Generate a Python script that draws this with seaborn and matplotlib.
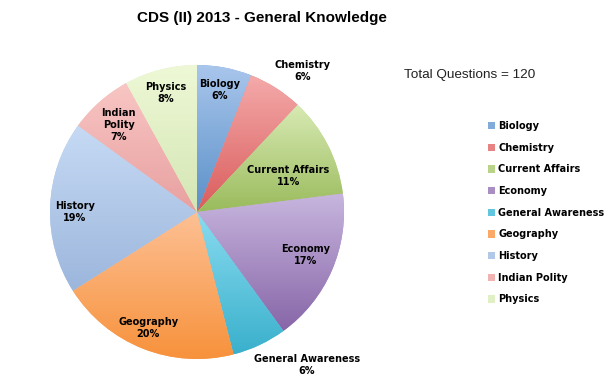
import numpy as np
import matplotlib
matplotlib.use("Agg")
import matplotlib.pyplot as plt
import seaborn as sns
from matplotlib.colors import to_rgb

# ---- data ----
categories = ["Biology", "Chemistry", "Current Affairs", "Economy",
              "General Awareness", "Geography", "History", "Indian Polity", "Physics"]
percent = [6, 6, 11, 17, 6, 20, 19, 7, 8]
total_questions = 120
title = "CDS (II) 2013 - General Knowledge"

# ---- styles ----
top_colors = ["#A9C6EC", "#F4AAAA", "#D8EAB4", "#C8B6DE", "#8ADCF0",
              "#FDC094", "#C6DAF4", "#F8C6C4", "#EEF8D6"]
bottom_colors = ["#5A90C8", "#DA5C5C", "#9ABB5C", "#8766A8", "#3AB0CC",
                 "#F7923C", "#9CB6DC", "#E8A0A0", "#D4E6B4"]
# label centres in pie-radius units
label_xy = [(0.152, 0.832), (0.719, 0.961), (0.621, 0.247), (0.739, -0.293),
            (0.746, -1.04), (-0.331, -0.787), (-0.83, 0.0), (-0.533, 0.594),
            (-0.211, 0.812)]
label_text = ["Biology", "Chemistry", "Current Affairs", "Economy",
              "General Awareness", "Geography", "History", "Indian\nPolity", "Physics"]

sns.set_theme(style="white")
plt.rcParams["font.family"] = ["Liberation Sans", "DejaVu Sans"]

W, H = 610, 388
fig = plt.figure(figsize=(W / 100, H / 100), dpi=100)
fig.patch.set_facecolor("white")
R = 147
cx, cy = 197, H - 212
ax = fig.add_axes([(cx - R) / W, (cy - R) / H, 2 * R / W, 2 * R / H])

mid_colors = [tuple((np.array(to_rgb(a)) + np.array(to_rgb(b))) / 2)
              for a, b in zip(top_colors, bottom_colors)]
wedges, _ = ax.pie(percent, colors=mid_colors, startangle=90, counterclock=False,
                   wedgeprops=dict(linewidth=0))

grad = np.linspace(0, 1, 128)[:, None, None]
for w, tc, bc in zip(wedges, top_colors, bottom_colors):
    ext = w.get_path().get_extents()
    img = np.array(to_rgb(tc))[None, None, :] * (1 - grad) + np.array(to_rgb(bc))[None, None, :] * grad
    im = ax.imshow(img, extent=[ext.x0, ext.x1, ext.y0, ext.y1], origin="upper",
                   aspect="auto", interpolation="bilinear", zorder=w.get_zorder() + 0.1)
    im.set_clip_path(w)

for (lx, ly), name, p in zip(label_xy, label_text, percent):
    ax.text(lx, ly, f"{name}\n{p}%", ha="center", va="center", fontsize=7,
            fontweight="bold", color="black", zorder=10, linespacing=1.25,
            family=["DejaVu Sans"])

ax.set_xlim(-1, 1)
ax.set_ylim(-1, 1)
ax.axis("off")

fig.text(262 / W, 1 - 18 / H, title, ha="center", va="center",
         fontsize=11, fontweight="bold", color="black")
fig.text(469.5 / W, 1 - 75 / H, f"Total Questions = {total_questions}", ha="center",
         va="center", fontsize=9.7, color="#222222")

leg = fig.legend(wedges, categories, loc="upper left", bbox_to_anchor=(488 / W, 1 - 121 / H),
                 frameon=False, prop=dict(weight="bold", size=7, family="DejaVu Sans"),
                 labelcolor="black",
                 handlelength=0.75, handleheight=0.75, handletextpad=0.3, labelspacing=1.2,
                 borderpad=0, borderaxespad=0)

fig.savefig("out.png", dpi=100, facecolor="white")
